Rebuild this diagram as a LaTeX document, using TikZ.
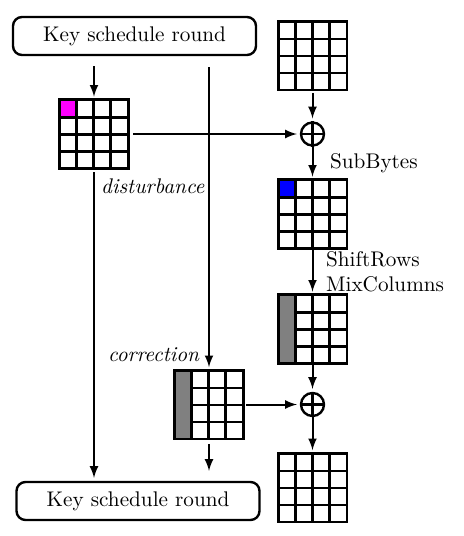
\documentclass[tikz,border=0pt]{standalone}
\usetikzlibrary{arrows}
\definecolor{cellpink}{RGB}{255,0,255}
\definecolor{cellblue}{RGB}{0,0,255}
\definecolor{cellgray}{RGB}{128,128,128}

% 4x4 state: node placeholder, then cell lines over it
\newcommand{\statebox}[2]{\node[state] (#1) at (#2) {};}
\newcommand{\statecells}[2][0pt]{%
  \draw[statelines] (#2.south west) rectangle (#2.north east);
  \foreach \k in {1,2,3} {
    \draw[statelines] ([xshift=\k*8.5pt]#2.south west) -- ([xshift=\k*8.5pt]#2.north west);
    \draw[statelines] ([xshift=#1,yshift=\k*8.5pt]#2.south west) -- ([yshift=\k*8.5pt]#2.south east);
  }
}

\begin{document}
\begin{tikzpicture}[x=0.5pt,y=-0.5pt,font=\fontsize{10.6}{12.5}\selectfont]
  \tikzstyle{every edge}=[draw,->,>=latex,line width=1pt,shorten >=1.5pt]
  \tikzstyle{keyround}=[rectangle,draw,rounded corners=4.5pt,line width=1.2pt,minimum width=121.5pt,minimum height=19pt,inner sep=2pt]
  \tikzstyle{state}=[rectangle,minimum size=34pt,inner sep=0pt]
  \tikzstyle{statelines}=[line width=1.4pt]
  \tikzstyle{xor}=[circle,draw,line width=1.2pt,minimum size=11.5pt,inner sep=0pt]
  \useasboundingbox (0,0) rectangle (464,536);

  \node[keyround] (key1) at (134.5,36) {Key schedule round};
  \node[keyround] (key2) at (138,501) {Key schedule round};

  \statebox{gA}{94,134}
  \fill[cellpink] (gA.north west) rectangle ([xshift=8.5pt,yshift=-8.5pt]gA.north west);
  \statecells{gA}
  \statebox{gIn}{312.5,55.5}
  \statecells{gIn}
  \statebox{gB}{312.5,214}
  \fill[cellblue] (gB.north west) rectangle ([xshift=8.5pt,yshift=-8.5pt]gB.north west);
  \statecells{gB}
  \statebox{gC}{312.5,329}
  \fill[cellgray] (gC.north west) rectangle ([xshift=8.5pt]gC.south west);
  \statecells[8.5pt]{gC}
  \statebox{gD}{209,404.5}
  \fill[cellgray] (gD.north west) rectangle ([xshift=8.5pt]gD.south west);
  \statecells[8.5pt]{gD}
  \statebox{gE}{312.5,487.5}
  \statecells{gE}

  \node[xor] (xor1) at (312.5,134) {};
  \draw[line width=1.2pt] (xor1.north) -- (xor1.south) (xor1.west) -- (xor1.east);
  \node[xor] (xor2) at (312.5,404.5) {};
  \draw[line width=1.2pt] (xor2.north) -- (xor2.south) (xor2.west) -- (xor2.east);

  \node[anchor=east,inner sep=0pt] (disturb) at (205,186) {\textit{disturbance}};
  \node[anchor=east,inner sep=0pt] (correct) at (200,355) {\textit{correction}};

  \path (key1.south -| gA.north) edge[shorten <=5pt] (gA.north);
  \path (key1.south -| gD.north) edge[shorten <=5.5pt] (gD.north);
  \path (gA.east) edge[shorten <=2.5pt] (xor1.west);
  \path (gIn.south) edge[shorten <=1.5pt] (xor1.north);
  \path (xor1.south) edge node[right=5pt] {SubBytes} (gB.north);
  \path (gB.south) edge node[right=3pt,align=left] {ShiftRows\\MixColumns} (gC.north);
  \path (gA.south) edge[shorten <=2pt] (gA.south |- key2.north);
  \path (gC.south) edge (xor2.north);
  \path (gD.east) edge[shorten <=1.5pt] (xor2.west);
  \path (gD.south) edge[shorten <=2.5pt,shorten >=5pt] (gD.south |- key2.north);
  \path (xor2.south) edge (gE.north);
\end{tikzpicture}
\end{document}
